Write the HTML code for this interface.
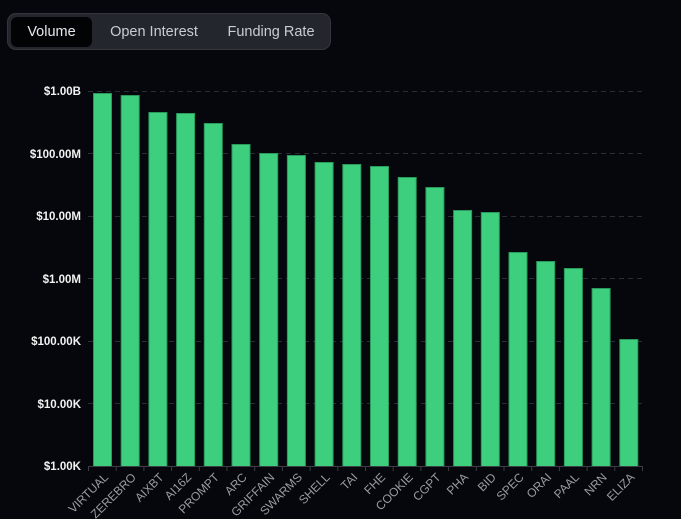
<!DOCTYPE html>
<html><head><meta charset="utf-8"><style>
html,body{margin:0;padding:0;background:#05070c;width:681px;height:519px;overflow:hidden;font-family:"Liberation Sans",sans-serif}
.tabs{position:absolute;left:7px;top:13px;width:324px;height:37px;background:#23262d;border:1px solid #33363d;border-radius:9px;box-sizing:border-box}
.tab{position:absolute;top:3px;height:30px;line-height:30px;color:#c9ccd2;font-size:14.5px;text-align:center}
.act{background:#020305;border-radius:6px;color:#e6e8eb}
</style></head><body>
<div class="tabs">
<div class="tab act" style="left:3px;width:81px">Volume</div>
<div class="tab" style="left:93px;width:106px">Open Interest</div>
<div class="tab" style="left:212px;width:102px">Funding Rate</div>
</div>
<svg width="681" height="519" style="position:absolute;left:0;top:0" xmlns="http://www.w3.org/2000/svg">
<g stroke="#2a2d33" stroke-dasharray="5,4" stroke-width="1">
<line x1="88" x2="643" y1="91.5" y2="91.5"/>
<line x1="88" x2="643" y1="153.5" y2="153.5"/>
<line x1="88" x2="643" y1="216.5" y2="216.5"/>
<line x1="88" x2="643" y1="278.5" y2="278.5"/>
<line x1="88" x2="643" y1="341.5" y2="341.5"/>
<line x1="88" x2="643" y1="403.5" y2="403.5"/>
</g>
<g fill="#f2f2f2" font-size="11.5" font-weight="bold" text-anchor="end">
<text x="81" y="95">$1.00B</text>
<text x="81" y="158">$100.00M</text>
<text x="81" y="220">$10.00M</text>
<text x="81" y="283">$1.00M</text>
<text x="81" y="345">$100.00K</text>
<text x="81" y="408">$10.00K</text>
<text x="81" y="470">$1.00K</text>
</g>
<g fill="#3ecf7e" stroke="#2a9a5c" stroke-width="1">
<rect x="93.5" y="93.5" width="18" height="373"/>
<rect x="121.2" y="95.5" width="18" height="371"/>
<rect x="148.9" y="112.5" width="18" height="354"/>
<rect x="176.6" y="113.5" width="18" height="353"/>
<rect x="204.3" y="123.5" width="18" height="343"/>
<rect x="232" y="144.5" width="18" height="322"/>
<rect x="259.7" y="153.5" width="18" height="313"/>
<rect x="287.4" y="155.5" width="18" height="311"/>
<rect x="315.1" y="162.5" width="18" height="304"/>
<rect x="342.8" y="164.5" width="18" height="302"/>
<rect x="370.5" y="166.5" width="18" height="300"/>
<rect x="398.2" y="177.5" width="18" height="289"/>
<rect x="425.9" y="187.5" width="18" height="279"/>
<rect x="453.6" y="210.5" width="18" height="256"/>
<rect x="481.3" y="212.5" width="18" height="254"/>
<rect x="509" y="252.5" width="18" height="214"/>
<rect x="536.7" y="261.5" width="18" height="205"/>
<rect x="564.4" y="268.5" width="18" height="198"/>
<rect x="592.1" y="288.5" width="18" height="178"/>
<rect x="619.8" y="339.5" width="18" height="127"/>
</g>
<line x1="88" x2="643" y1="466.5" y2="466.5" stroke="#3a3d44"/>
<g stroke="#3a3d44">
<line x1="88.5" x2="88.5" y1="466" y2="471"/><line x1="116.2" x2="116.2" y1="466" y2="471"/><line x1="143.9" x2="143.9" y1="466" y2="471"/><line x1="171.6" x2="171.6" y1="466" y2="471"/><line x1="199.3" x2="199.3" y1="466" y2="471"/><line x1="227" x2="227" y1="466" y2="471"/><line x1="254.7" x2="254.7" y1="466" y2="471"/><line x1="282.4" x2="282.4" y1="466" y2="471"/><line x1="310.1" x2="310.1" y1="466" y2="471"/><line x1="337.8" x2="337.8" y1="466" y2="471"/><line x1="365.5" x2="365.5" y1="466" y2="471"/><line x1="393.2" x2="393.2" y1="466" y2="471"/><line x1="420.9" x2="420.9" y1="466" y2="471"/><line x1="448.6" x2="448.6" y1="466" y2="471"/><line x1="476.3" x2="476.3" y1="466" y2="471"/><line x1="504" x2="504" y1="466" y2="471"/><line x1="531.7" x2="531.7" y1="466" y2="471"/><line x1="559.4" x2="559.4" y1="466" y2="471"/><line x1="587.1" x2="587.1" y1="466" y2="471"/><line x1="614.8" x2="614.8" y1="466" y2="471"/><line x1="642.5" x2="642.5" y1="466" y2="471"/>
</g>
<g fill="#9a9ca1" font-size="12" text-anchor="end">
<text transform="translate(109,478) rotate(-45)">VIRTUAL</text>
<text transform="translate(136.7,478) rotate(-45)">ZEREBRO</text>
<text transform="translate(164.4,478) rotate(-45)">AIXBT</text>
<text transform="translate(192.1,478) rotate(-45)">AI16Z</text>
<text transform="translate(219.8,478) rotate(-45)">PROMPT</text>
<text transform="translate(247.5,478) rotate(-45)">ARC</text>
<text transform="translate(275.2,478) rotate(-45)">GRIFFAIN</text>
<text transform="translate(302.9,478) rotate(-45)">SWARMS</text>
<text transform="translate(330.6,478) rotate(-45)">SHELL</text>
<text transform="translate(358.3,478) rotate(-45)">TAI</text>
<text transform="translate(386,478) rotate(-45)">FHE</text>
<text transform="translate(413.7,478) rotate(-45)">COOKIE</text>
<text transform="translate(441.4,478) rotate(-45)">CGPT</text>
<text transform="translate(469.1,478) rotate(-45)">PHA</text>
<text transform="translate(496.8,478) rotate(-45)">BID</text>
<text transform="translate(524.5,478) rotate(-45)">SPEC</text>
<text transform="translate(552.2,478) rotate(-45)">ORAI</text>
<text transform="translate(579.9,478) rotate(-45)">PAAL</text>
<text transform="translate(607.6,478) rotate(-45)">NRN</text>
<text transform="translate(635.3,478) rotate(-45)">ELIZA</text>
</g>
</svg>
</body></html>
